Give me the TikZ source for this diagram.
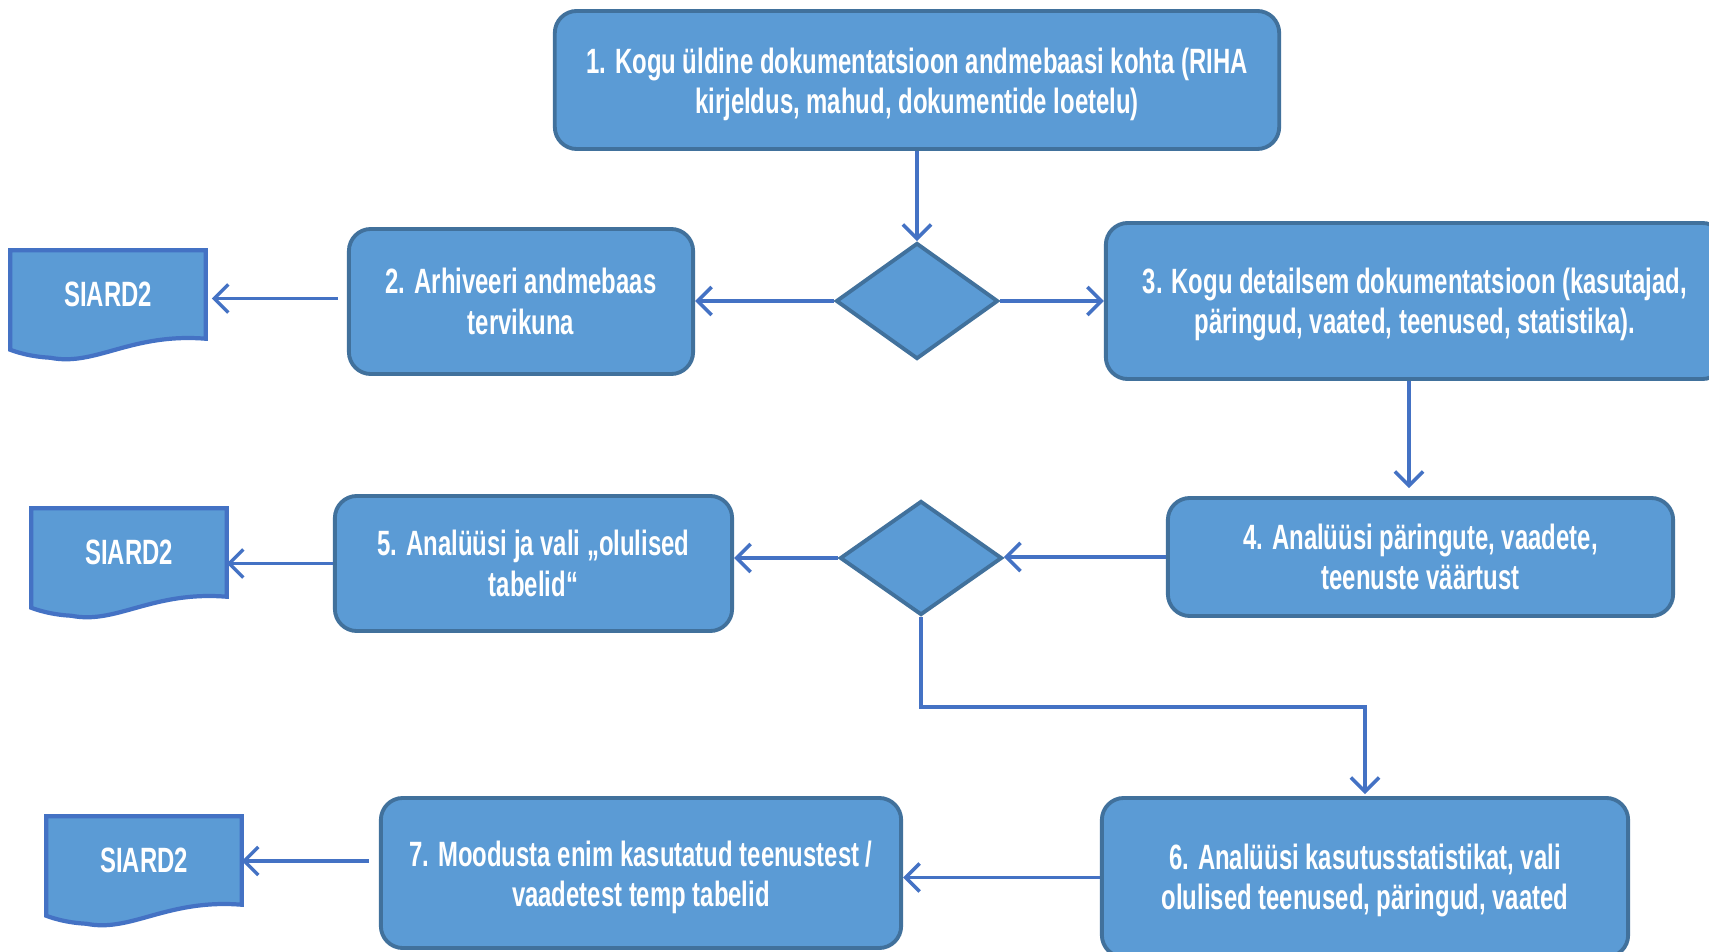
\documentclass[tikz,border=0pt]{standalone}
\usepackage{fontspec}
\setmainfont{Liberation Sans}[FakeStretch=0.68]
\usetikzlibrary{shapes.geometric,arrows.meta}
\definecolor{boxfill}{HTML}{5B9BD5}
\definecolor{boxline}{HTML}{41719C}
\definecolor{arrline}{HTML}{4472C4}
\tikzset{
  stepbox/.style={draw=boxline, line width=1.1pt, fill=boxfill, rounded corners=0.22cm, inner sep=0pt},
  steptext/.style={text=white, font=\bfseries\fontsize{10}{11.5}\selectfont, align=center, inner sep=0pt},
  decision/.style={diamond, draw=boxline, line width=1.1pt, fill=boxfill, inner sep=0pt, aspect=1.4},
  docbox/.style={inner sep=0pt, text=white, font=\bfseries\fontsize{10}{11.5}\selectfont},
  docshape/.style={draw=arrline, line width=1.2pt, fill=boxfill},
  arr/.style={draw=arrline, line width=1pt, -{Straight Barb[length=4pt,width=8pt,line width=1pt]}}
}
\newcommand{\docdraw}[1]{%
  \path[docshape] (#1.north west) -- (#1.north east) -- (#1.south east)
    .. controls ([xshift=-0.75cm,yshift=0.06cm]#1.south east) and ([xshift=0.85cm,yshift=-0.28cm]#1.south west)
    .. ([xshift=0.4cm,yshift=-0.19cm]#1.south west)
    .. controls ([xshift=0.2cm,yshift=-0.18cm]#1.south west) and ([xshift=0.05cm,yshift=-0.13cm]#1.south west)
    .. ([yshift=-0.11cm]#1.south west) -- cycle;}
\begin{document}
\begin{tikzpicture}[x=0.01cm,y=-0.01cm]
\useasboundingbox (0,0) rectangle (1709,952);
\clip (0,0) rectangle (1709,952);
% boxes
\node[stepbox, minimum width=7.24cm, minimum height=1.38cm] (b1) at (917,80) {};
\node[steptext] at ([yshift=-0.045cm]b1.center)
  {1. Kogu üldine dokumentatsioon andmebaasi kohta (RIHA\\kirjeldus, mahud, dokumentide loetelu)};
\node[decision, minimum width=1.62cm, minimum height=1.16cm] (d1) at (917,301) {};
\node[stepbox, minimum width=3.44cm, minimum height=1.45cm] (b2) at (521,301.5) {};
\node[steptext] at (b2.center) {2. Arhiveeri andmebaas\\tervikuna};
\node[stepbox, minimum width=6.18cm, minimum height=1.56cm] (b3) at (1415,301) {};
\node[steptext] at ([yshift=-0.035cm]b3.center)
  {3. Kogu detailsem dokumentatsioon (kasutajad,\\päringud, vaated, teenused, statistika).};
\node[stepbox, minimum width=5.05cm, minimum height=1.18cm] (b4) at (1420.5,557) {};
\node[steptext] at (b4.center) {4. Analüüsi päringute, vaadete,\\teenuste väärtust};
\node[decision, minimum width=1.62cm, minimum height=1.14cm] (d2) at (921,558) {};
\node[stepbox, minimum width=3.97cm, minimum height=1.35cm] (b5) at (533.5,563.5) {};
\node[steptext] at (b5.center) {5. Analüüsi ja vali „olulised\\tabelid“};
\node[stepbox, minimum width=5.26cm, minimum height=1.59cm] (b6) at (1365,877.5) {};
\node[steptext] at ([yshift=-0.03cm]b6.center)
  {6. Analüüsi kasutusstatistikat, vali\\olulised teenused, päringud, vaated};
\node[stepbox, minimum width=5.20cm, minimum height=1.50cm] (b7) at (641,873) {};
\node[steptext] at ([yshift=-0.045cm]b7.center)
  {7. Moodusta enim kasutatud teenustest /\\vaadetest temp tabelid};
% documents
\node[docbox, minimum width=1.94cm, minimum height=0.87cm] (doc1) at (108,294.5) {};
\node[docbox, minimum width=1.94cm, minimum height=0.87cm] (doc2) at (129,552.5) {};
\node[docbox, minimum width=1.94cm, minimum height=0.87cm] (doc3) at (144,860.5) {};
\docdraw{doc1}\docdraw{doc2}\docdraw{doc3}
\node[docbox] at (doc1) {SIARD2};
\node[docbox] at (doc2) {SIARD2};
\node[docbox] at (doc3) {SIARD2};
% connectors
\coordinate (bend) at (1365,707);
\draw[arr] (b1.south) -- (d1.north);
\draw[arr] (d1.west) -- (d1.west -| b2.east);
\draw[arr] (d1.east) -- (d1.east -| b3.west);
\draw[arr, shorten <=0.09cm, shorten >=0.06cm] ([yshift=0.03cm]b2.west) -- ([yshift=0.03cm]b2.west -| doc1.east);
\draw[arr, shorten >=0.08cm] ([xshift=-0.06cm]b3.south) -- ([xshift=-0.06cm]b3.south |- b4.north);
\draw[arr] (b4.west) -- (b4.west -| d2.east);
\draw[arr] (d2.west) -- (d2.west -| b5.east);
\draw[arr] (b5.west) -- (b5.west -| doc2.east);
\draw[arr, shorten >=0.02cm] (d2.south) |- (bend) -- (b6.north);
\draw[arr] (b6.west) -- (b6.west -| b7.east);
\draw[arr, shorten <=0.1cm] ([yshift=0.12cm]b7.west) -- ([yshift=0.12cm]b7.west -| doc3.east);
\end{tikzpicture}
\end{document}
